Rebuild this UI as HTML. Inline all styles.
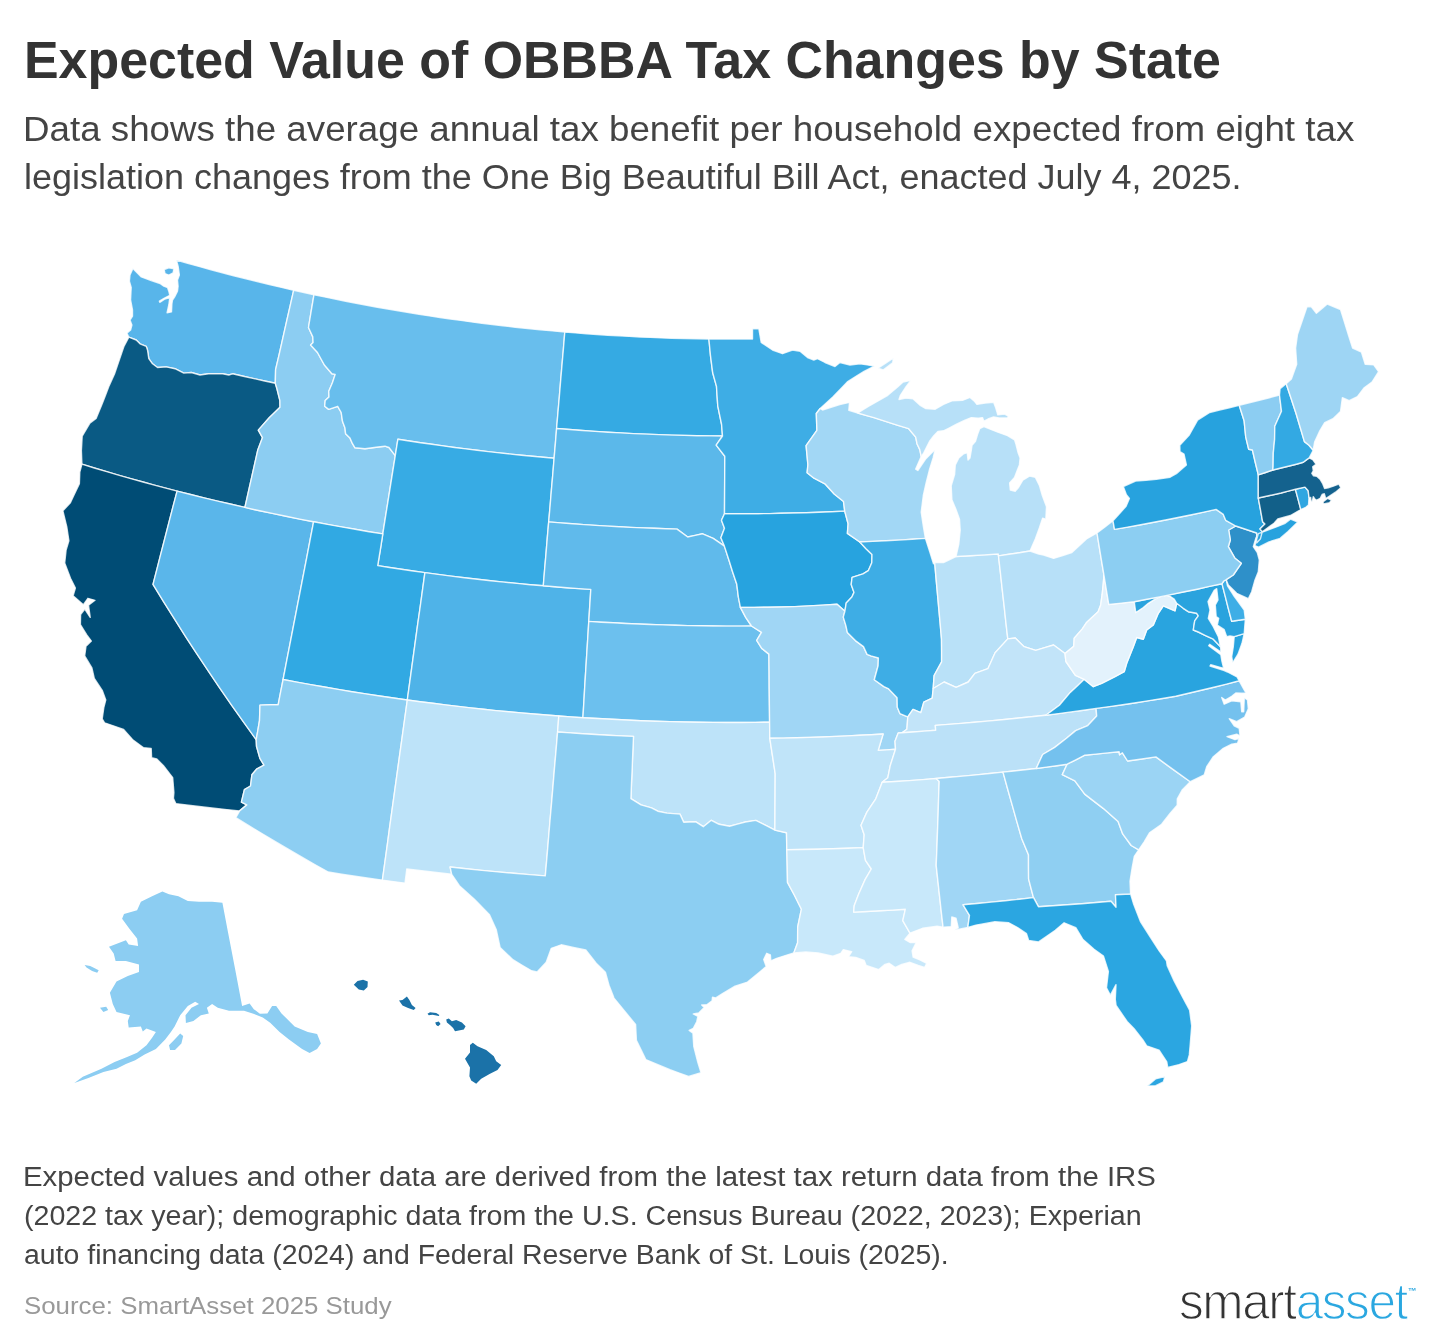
<!DOCTYPE html>
<html lang="en"><head><meta charset="utf-8"><title>Expected Value of OBBBA Tax Changes by State</title>
<style>
html,body{margin:0;padding:0;background:#fff;}
body{width:1440px;height:1344px;position:relative;overflow:hidden;font-family:"Liberation Sans","DejaVu Sans",sans-serif;color:#333;}
.t{position:absolute;margin:0;white-space:nowrap;transform-origin:0 0;line-height:1;font-weight:400;}
h1.t{font-size:51px;font-weight:700;color:#333;}
.sub{font-size:35.5px;color:#444;}
.nt{font-size:27px;color:#444;}
.src{font-size:24px;color:#999;}
.logo{font-size:51.5px;color:#333;letter-spacing:-1.5px;-webkit-text-stroke:1.35px #fff;}
.logo b{font-weight:400;color:#2aa7e0;}
.logo i{font-style:normal;font-size:9px;font-weight:700;color:#2aa7e0;letter-spacing:0;position:relative;top:-25px;left:1px;-webkit-text-stroke:0;}
svg{position:absolute;left:0;top:0;}
svg path{stroke:#fff;stroke-width:1.4;stroke-opacity:.8;stroke-linejoin:round;}
svg path.ns{stroke:none;}
</style></head><body>
<h1 class="t" id="l1" style="left:23.95px;top:35.30px;transform:scaleX(1.0177)">Expected Value of OBBBA Tax Changes by State</h1>
<p class="t sub" id="l2" style="left:23.40px;top:112.25px;transform:scaleX(1.0346)">Data shows the average annual tax benefit per household expected from eight tax</p>
<p class="t sub" id="l3" style="left:23.97px;top:160.40px;transform:scaleX(1.0130)">legislation changes from the One Big Beautiful Bill Act, enacted July 4, 2025.</p>
<svg width="1440" height="1344" viewBox="0 0 1440 1344">
<path id="st-WA" d="M176.4,260.1L187.6,263.3L198.9,266.4L210.1,269.5L221.4,272.5L232.7,275.5L244.9,278.6L257.1,281.6L269.3,284.5L281.5,287.4L293.7,290.2L290.1,306.1L286.5,321.9L282.9,337.8L279.3,353.8L275.6,369.7L275.3,383.3L264.6,381.0L253.9,378.6L243.2,376.2L232.5,373.8L228.8,375.0L222.5,373.8L215.6,373.8L208.7,373.8L200.0,375.0L191.3,372.5L183.8,373.1L175.0,368.7L166.2,366.9L157.5,367.5L152.5,363.8L148.8,358.7L147.5,350.0L146.2,346.3L140.0,343.8L136.2,340.0L128.8,337.2L126.9,333.1L130.6,330.0L131.9,325.0L130.0,320.0L132.5,316.2L132.5,310.0L130.6,300.0L131.2,287.5L129.4,281.2L130.0,275.0L132.9,268.5L141.3,276.9L151.2,280.6L160.0,283.5L163.8,286.2L167.5,287.5L168.8,291.2L169.8,295.3L164.5,298.0L159.4,301.2L159.8,302.3L165.0,299.0L169.8,297.5L168.8,305.0L167.1,312.7L171.5,311.9L171.9,303.8L172.5,300.0L175.0,296.3L177.5,291.2L178.1,286.2L177.5,280.0L179.4,275.0L178.1,266.2ZM164.2,269.6L165.0,273.6L168.8,275.1L173.1,273.0L173.9,268.8L168.7,267.8Z" fill="#58b5ea"/>
<path id="st-OR" d="M128.8,337.2L123.8,346.8L119.7,358.8L114.5,373.9L109.2,385.6L105.8,394.6L102.3,403.6L96.1,418.4L89.9,423.1L82.2,436.2L81.4,450.7L81.9,464.2L94.3,468.0L106.7,471.7L119.2,475.3L131.7,478.9L143.0,482.0L154.3,485.1L165.7,488.1L177.1,491.1L190.6,494.5L204.1,497.9L217.7,501.1L231.3,504.3L244.9,507.4L248.1,493.1L251.3,478.8L254.5,464.6L257.7,450.3L262.5,437.6L258.3,430.1L269.2,417.8L280.0,407.2L279.9,400.6L276.9,388.5L275.3,383.3L264.6,381.0L253.9,378.6L243.2,376.2L232.5,373.8L228.8,375.0L222.5,373.8L215.6,373.8L208.7,373.8L200.0,375.0L191.3,372.5L183.8,373.1L175.0,368.7L166.2,366.9L157.5,367.5L152.5,363.8L148.8,358.7L147.5,350.0L146.2,346.3L140.0,343.8L136.2,340.0Z" fill="#0a5a84"/>
<path id="st-CA" d="M81.9,464.2L79.8,472.0L79.4,483.6L73.9,495.3L70.4,502.7L62.9,510.8L66.8,526.8L68.9,540.8L66.1,550.1L64.7,563.1L70.5,578.2L75.4,588.0L73.1,595.7L83.4,604.7L87.9,598.3L95.0,600.3L88.5,605.2L90.2,617.4L84.8,609.1L80.6,614.6L80.4,624.6L86.6,634.7L91.4,641.1L86.0,646.2L84.7,655.9L91.9,667.9L94.3,678.5L102.4,690.7L105.8,699.9L103.8,707.7L102.2,718.9L104.6,722.8L114.1,726.1L123.6,729.4L133.1,740.1L143.3,747.6L151.2,748.5L151.6,757.8L156.8,759.0L163.3,765.5L172.7,777.6L173.9,792.6L173.4,798.4L175.8,803.6L188.6,805.2L201.3,806.7L214.1,808.2L226.9,809.6L239.6,810.9L246.8,804.9L241.4,802.1L244.4,789.7L250.5,786.0L251.9,774.8L256.5,769.2L264.0,765.1L259.9,758.4L256.5,746.3L256.2,739.7L244.0,722.7L231.9,705.6L220.0,688.4L208.4,671.2L196.9,653.9L185.6,636.6L174.6,619.2L163.7,601.8L153.0,584.3L157.0,568.8L161.0,553.2L165.0,537.7L169.0,522.1L173.0,506.6L177.1,491.1L165.7,488.1L154.3,485.1L143.0,482.0L131.7,478.9L119.2,475.3L106.7,471.7L94.3,468.0Z" fill="#004c75"/>
<path id="st-NV" d="M177.1,491.1L190.6,494.5L204.1,497.9L217.7,501.1L231.3,504.3L244.9,507.4L258.6,510.5L272.3,513.4L286.1,516.3L299.8,519.1L313.6,521.8L310.2,539.3L306.9,556.8L303.5,574.3L300.1,591.8L296.7,609.3L293.3,626.9L289.9,644.4L286.5,661.9L283.1,679.5L280.6,692.1L278.2,704.7L270.4,704.8L260.0,705.1L259.5,720.7L257.9,730.2L256.2,739.7L244.0,722.7L231.9,705.6L220.0,688.4L208.4,671.2L196.9,653.9L185.6,636.6L174.6,619.2L163.7,601.8L153.0,584.3L157.0,568.8L161.0,553.2L165.0,537.7L169.0,522.1L173.0,506.6Z" fill="#5ab6ea"/>
<path id="st-ID" d="M293.7,290.2L303.9,292.5L314.0,294.7L311.2,311.1L308.5,327.5L312.8,336.9L313.1,342.5L310.6,345.0L317.5,352.5L324.4,365.0L331.9,373.8L335.2,374.4L332.5,382.5L328.8,391.2L329.0,396.9L325.2,400.6L324.7,406.2L328.7,409.4L337.7,406.3L341.2,412.5L342.5,421.3L345.0,428.1L345.6,433.7L350.0,438.1L352.5,443.7L355.0,447.8L365.0,448.8L378.0,447.0L385.0,446.2L389.0,447.5L395.3,455.6L392.8,471.2L390.3,486.9L387.8,502.6L385.3,518.2L382.8,533.9L368.9,531.7L355.1,529.3L341.3,526.9L327.4,524.4L313.6,521.8L299.8,519.1L286.1,516.3L272.3,513.4L258.6,510.5L244.9,507.4L248.1,493.1L251.3,478.8L254.5,464.6L257.7,450.3L262.5,437.6L258.3,430.1L269.2,417.8L280.0,407.2L279.9,400.6L276.9,388.5L275.3,383.3L275.6,369.7L279.3,353.8L282.9,337.8L286.5,321.9L290.1,306.1Z" fill="#8ccdf2"/>
<path id="st-MT" d="M314.0,294.7L324.5,296.9L335.0,299.0L345.6,301.2L356.1,303.2L366.7,305.2L377.3,307.2L387.7,309.0L398.1,310.8L408.5,312.5L419.0,314.2L429.4,315.9L439.9,317.5L450.3,319.0L460.8,320.4L471.3,321.9L481.8,323.2L492.3,324.5L502.8,325.8L515.2,327.2L527.6,328.5L540.0,329.7L552.4,330.9L564.8,332.0L563.5,348.0L562.1,364.0L560.7,380.1L559.4,396.2L558.0,412.3L556.6,428.5L555.4,443.4L554.1,458.3L543.2,457.3L532.3,456.3L521.4,455.2L510.5,454.1L499.3,452.9L488.1,451.6L477.0,450.3L465.8,448.9L454.5,447.5L443.1,445.9L431.8,444.3L420.5,442.7L409.2,441.0L397.9,439.2L395.3,455.6L389.0,447.5L385.0,446.2L378.0,447.0L365.0,448.8L355.0,447.8L352.5,443.7L350.0,438.1L345.6,433.7L345.0,428.1L342.5,421.3L341.2,412.5L337.7,406.3L328.7,409.4L324.7,406.2L325.2,400.6L329.0,396.9L328.8,391.2L332.5,382.5L335.2,374.4L331.9,373.8L324.4,365.0L317.5,352.5L310.6,345.0L313.1,342.5L312.8,336.9L308.5,327.5L311.2,311.1Z" fill="#68beed"/>
<path id="st-WY" d="M397.9,439.2L409.2,441.0L420.5,442.7L431.8,444.3L443.1,445.9L454.5,447.5L465.8,448.9L477.0,450.3L488.1,451.6L499.3,452.9L510.5,454.1L521.4,455.2L532.3,456.3L543.2,457.3L554.1,458.3L552.8,474.2L551.4,490.1L550.1,506.0L548.7,521.9L547.3,537.9L546.0,553.9L544.6,569.8L543.3,585.8L530.1,584.7L516.9,583.4L503.7,582.1L490.6,580.7L477.4,579.3L464.3,577.7L451.1,576.1L438.0,574.4L424.9,572.6L413.1,571.0L401.3,569.3L389.5,567.5L377.7,565.6L380.3,549.8L382.8,533.9L385.3,518.2L387.8,502.6L390.3,486.9L392.8,471.2L395.3,455.6Z" fill="#37abe4"/>
<path id="st-UT" d="M313.6,521.8L327.4,524.4L341.3,526.9L355.1,529.3L368.9,531.7L382.8,533.9L380.3,549.8L377.7,565.6L389.5,567.5L401.3,569.3L413.1,571.0L424.9,572.6L422.4,590.8L419.9,609.0L417.3,627.2L414.8,645.4L412.3,663.6L409.8,681.8L407.3,700.0L393.4,698.0L379.6,696.0L365.8,693.9L351.9,691.7L338.1,689.4L324.4,687.0L310.6,684.6L296.8,682.1L283.1,679.5L286.5,661.9L289.9,644.4L293.3,626.9L296.7,609.3L300.1,591.8L303.5,574.3L306.9,556.8L310.2,539.3Z" fill="#31a9e3"/>
<path id="st-AZ" d="M283.1,679.5L296.8,682.1L310.6,684.6L324.4,687.0L338.1,689.4L351.9,691.7L365.8,693.9L379.6,696.0L393.4,698.0L407.3,700.0L404.8,718.0L402.3,736.1L399.8,754.1L397.3,772.1L394.8,790.2L392.3,808.2L389.8,826.2L387.4,844.2L384.9,862.1L382.4,880.1L368.8,878.2L355.3,876.2L341.8,874.2L328.3,872.0L314.8,864.5L301.5,856.9L288.2,849.2L275.0,841.4L261.9,833.6L248.8,825.7L235.8,817.7L239.6,810.9L246.8,804.9L241.4,802.1L244.4,789.7L250.5,786.0L251.9,774.8L256.5,769.2L264.0,765.1L259.9,758.4L256.5,746.3L256.2,739.7L257.9,730.2L259.5,720.7L260.0,705.1L270.4,704.8L278.2,704.7L280.6,692.1Z" fill="#8dcef2"/>
<path id="st-CO" d="M424.9,572.6L438.0,574.4L451.1,576.1L464.3,577.7L477.4,579.3L490.6,580.7L503.7,582.1L516.9,583.4L530.1,584.7L543.3,585.8L555.1,586.8L567.0,587.7L578.9,588.6L590.8,589.4L589.8,605.4L588.8,621.4L587.8,637.5L586.8,653.5L585.8,669.5L584.8,685.6L583.9,701.6L582.9,717.7L570.8,716.9L558.8,716.0L546.2,715.0L533.7,714.0L521.1,712.9L508.6,711.8L496.0,710.6L483.5,709.3L470.8,707.9L458.1,706.4L445.4,704.9L432.7,703.3L420.0,701.7L407.3,700.0L409.8,681.8L412.3,663.6L414.8,645.4L417.3,627.2L419.9,609.0L422.4,590.8Z" fill="#4fb3e8"/>
<path id="st-NM" d="M407.3,700.0L420.0,701.7L432.7,703.3L445.4,704.9L458.1,706.4L470.8,707.9L483.5,709.3L496.0,710.6L508.6,711.8L521.1,712.9L533.7,714.0L546.2,715.0L558.8,716.0L557.6,732.0L556.1,750.0L554.5,768.1L553.0,786.1L551.5,804.0L549.9,822.0L548.4,840.0L546.9,857.9L545.3,875.9L529.5,874.6L513.6,873.3L497.7,871.9L481.8,870.4L466.0,868.7L450.1,867.0L451.7,874.3L436.7,872.5L421.8,870.7L406.8,868.9L405.0,883.1L393.7,881.6L382.4,880.1L384.9,862.1L387.4,844.2L389.8,826.2L392.3,808.2L394.8,790.2L397.3,772.1L399.8,754.1L402.3,736.1L404.8,718.0Z" fill="#bde3f9"/>
<path id="st-ND" d="M564.8,332.0L575.5,332.9L586.3,333.7L597.0,334.5L607.7,335.2L618.4,335.8L629.2,336.4L639.7,337.0L650.3,337.4L660.9,337.9L671.4,338.2L683.9,338.6L696.4,338.8L708.9,339.0L710.4,354.8L712.7,372.8L716.5,386.4L717.1,396.3L717.8,406.1L721.6,424.5L722.5,436.0L709.7,435.9L697.0,435.7L684.3,435.4L671.6,435.1L658.9,434.6L646.2,434.1L633.4,433.6L620.6,432.9L607.8,432.2L595.0,431.4L582.2,430.5L569.4,429.5L556.6,428.5L558.0,412.3L559.4,396.2L560.7,380.1L562.1,364.0L563.5,348.0Z" fill="#35aae3"/>
<path id="st-SD" d="M556.6,428.5L569.4,429.5L582.2,430.5L595.0,431.4L607.8,432.2L620.6,432.9L633.4,433.6L646.2,434.1L658.9,434.6L671.6,435.1L684.3,435.4L697.0,435.7L709.7,435.9L722.5,436.0L716.2,445.1L724.8,456.3L724.7,475.5L724.6,494.6L724.5,513.8L721.5,520.2L724.5,528.2L720.9,537.8L724.4,546.1L713.2,538.4L702.6,533.8L695.2,535.4L687.7,537.0L677.0,529.1L665.4,528.7L653.8,528.3L642.3,527.9L630.7,527.4L619.1,526.8L607.4,526.1L595.6,525.4L583.9,524.6L572.2,523.8L560.4,522.9L548.7,521.9L550.1,506.0L551.4,490.1L552.8,474.2L554.1,458.3L555.4,443.4Z" fill="#5bb8ea"/>
<path id="st-NE" d="M548.7,521.9L560.4,522.9L572.2,523.8L583.9,524.6L595.6,525.4L607.4,526.1L619.1,526.8L630.7,527.4L642.3,527.9L653.8,528.3L665.4,528.7L677.0,529.1L687.7,537.0L695.2,535.4L702.6,533.8L713.2,538.4L724.4,546.1L729.0,560.3L732.5,571.5L736.8,584.3L738.4,597.2L740.4,607.4L745.7,617.4L751.5,626.0L738.8,626.1L726.1,626.1L713.3,626.0L700.6,625.8L687.8,625.6L675.1,625.3L662.4,624.9L650.1,624.5L637.8,624.0L625.6,623.5L613.3,622.8L601.0,622.2L588.8,621.4L589.8,605.4L590.8,589.4L578.9,588.6L567.0,587.7L555.1,586.8L543.3,585.8L544.6,569.8L546.0,553.9L547.3,537.9Z" fill="#60baeb"/>
<path id="st-KS" d="M588.8,621.4L601.0,622.2L613.3,622.8L625.6,623.5L637.8,624.0L650.1,624.5L662.4,624.9L675.1,625.3L687.8,625.6L700.6,625.8L713.3,626.0L726.1,626.1L738.8,626.1L751.5,626.0L761.5,632.3L756.7,640.4L761.7,648.4L768.9,654.1L769.1,671.1L769.2,688.2L769.4,705.2L769.6,722.2L755.4,722.4L741.2,722.5L727.1,722.5L712.9,722.4L698.7,722.2L684.5,722.0L670.0,721.6L655.5,721.2L640.9,720.7L626.4,720.0L611.9,719.3L597.4,718.5L582.9,717.7L583.9,701.6L584.8,685.6L585.8,669.5L586.8,653.5L587.8,637.5Z" fill="#6cc0ee"/>
<path id="st-OK" d="M558.8,716.0L570.8,716.9L582.9,717.7L597.4,718.5L611.9,719.3L626.4,720.0L640.9,720.7L655.5,721.2L670.0,721.6L684.5,722.0L698.7,722.2L712.9,722.4L727.1,722.5L741.2,722.5L755.4,722.4L769.6,722.2L769.8,738.3L772.5,755.9L775.2,773.6L775.1,792.4L775.0,811.3L774.9,830.1L765.3,825.2L755.8,820.4L745.4,822.0L737.5,824.1L729.6,826.2L719.1,824.3L711.3,820.3L703.3,826.7L695.5,821.7L683.7,822.2L680.0,814.1L666.9,813.1L657.8,811.2L651.4,807.8L641.0,804.9L630.9,798.7L631.5,783.1L632.2,767.6L632.8,752.0L633.5,736.4L620.8,735.9L608.2,735.2L595.5,734.5L582.9,733.8L570.2,732.9L557.6,732.0Z" fill="#bde3f9"/>
<path id="st-TX" d="M451.7,874.3L450.1,867.0L466.0,868.7L481.8,870.4L497.7,871.9L513.6,873.3L529.5,874.6L545.3,875.9L546.9,857.9L548.4,840.0L549.9,822.0L551.5,804.0L553.0,786.1L554.5,768.1L556.1,750.0L557.6,732.0L570.2,732.9L582.9,733.8L595.5,734.5L608.2,735.2L620.8,735.9L633.5,736.4L632.8,752.0L632.2,767.6L631.5,783.1L630.9,798.7L641.0,804.9L651.4,807.8L657.8,811.2L666.9,813.1L680.0,814.1L683.7,822.2L695.5,821.7L703.3,826.7L711.3,820.3L719.1,824.3L729.6,826.2L737.5,824.1L745.4,822.0L755.8,820.4L765.3,825.2L774.9,830.1L786.5,832.7L786.8,849.7L787.2,866.1L787.5,882.4L794.3,895.0L801.4,909.2L797.7,926.9L797.6,942.8L793.8,952.9L785.2,955.6L776.7,958.3L770.8,960.8L770.4,955.0L766.7,953.3L763.7,959.6L766.2,966.5L760.0,971.7L747.5,982.1L735.0,986.2L722.5,993.5L715.8,997.9L712.5,997.1L712.1,1000.8L707.1,1004.6L701.7,1005.0L704.2,1007.5L698.7,1012.9L693.3,1014.0L697.9,1016.5L696.7,1021.7L693.3,1028.3L689.2,1030.4L692.9,1033.1L693.8,1046.7L697.5,1061.2L701.0,1072.7L688.6,1076.4L679.3,1073.1L670.0,1069.7L657.9,1064.7L645.8,1059.6L641.1,1049.9L636.4,1040.3L635.6,1024.4L624.7,1011.3L614.0,998.1L609.0,985.2L605.4,972.3L596.2,963.2L585.8,949.9L573.5,947.4L561.2,944.8L551.3,948.3L546.2,962.3L537.1,971.9L531.6,970.8L522.2,965.3L512.9,959.7L500.1,947.4L496.2,929.5L489.3,914.4L474.4,899.2L466.9,892.4L459.4,885.7Z" fill="#8ccef2"/>
<path id="st-MN" d="M708.9,339.0L719.8,339.1L730.7,339.1L741.6,339.1L752.5,339.0L752.5,328.8L758.8,328.7L761.2,342.5L772.5,350.0L782.5,353.7L792.5,350.0L800.0,351.2L807.5,357.5L813.8,360.0L817.5,358.7L825.0,362.5L835.0,366.5L840.0,362.5L850.0,365.0L860.0,363.8L867.2,364.9L874.4,366.0L864.0,371.4L855.6,376.6L847.3,381.9L840.1,389.4L832.8,396.9L820.2,408.5L816.3,413.5L816.9,430.3L806.1,445.6L807.0,455.1L807.9,464.7L807.1,472.7L814.0,478.2L824.9,483.8L834.2,494.0L843.5,501.5L844.7,511.1L831.9,511.7L819.2,512.2L806.4,512.7L793.6,513.0L780.8,513.3L769.6,513.6L758.3,513.7L747.0,513.8L735.8,513.8L724.5,513.8L724.6,494.6L724.7,475.5L724.8,456.3L716.2,445.1L722.5,436.0L721.6,424.5L717.8,406.1L717.1,396.3L716.5,386.4L712.7,372.8L710.4,354.8Z" fill="#3eade5"/>
<path id="st-IA" d="M724.5,513.8L735.8,513.8L747.0,513.8L758.3,513.7L769.6,513.6L780.8,513.3L793.6,513.0L806.4,512.7L819.2,512.2L831.9,511.7L844.7,511.1L848.1,523.7L847.4,533.4L859.8,542.0L865.8,548.4L872.0,554.4L871.8,562.8L868.3,570.7L863.0,573.9L852.1,577.4L851.2,584.5L854.0,592.4L851.9,597.0L846.2,603.1L844.9,611.2L837.1,604.2L823.0,605.1L808.9,605.9L794.8,606.6L781.2,607.0L767.6,607.2L754.0,607.4L740.4,607.4L738.4,597.2L736.8,584.3L732.5,571.5L729.0,560.3L724.4,546.1L720.9,537.8L724.5,528.2L721.5,520.2Z" fill="#27a3df"/>
<path id="st-MO" d="M740.4,607.4L754.0,607.4L767.6,607.2L781.2,607.0L794.8,606.6L808.9,605.9L823.0,605.1L837.1,604.2L844.9,611.2L843.3,617.1L845.9,625.6L847.4,632.6L855.4,640.6L863.5,646.6L867.1,654.4L870.9,655.8L878.4,658.0L878.1,665.7L874.3,679.8L883.9,686.6L888.2,688.6L897.1,697.7L897.3,707.3L899.9,713.6L907.8,716.9L906.9,729.2L902.0,732.8L898.2,733.0L895.0,741.3L895.5,749.3L886.9,749.9L878.2,750.4L883.1,734.0L871.4,734.7L859.7,735.3L847.9,735.9L836.2,736.4L823.0,737.0L809.7,737.4L796.4,737.8L783.1,738.1L769.8,738.3L769.6,722.2L769.4,705.2L769.2,688.2L769.1,671.1L768.9,654.1L761.7,648.4L756.7,640.4L761.5,632.3L751.5,626.0L745.7,617.4Z" fill="#a0d6f5"/>
<path id="st-AR" d="M769.8,738.3L783.1,738.1L796.4,737.8L809.7,737.4L823.0,737.0L836.2,736.4L847.9,735.9L859.7,735.3L871.4,734.7L883.1,734.0L878.2,750.4L886.9,749.9L895.5,749.3L890.2,765.8L887.8,777.8L882.2,782.3L875.8,798.8L866.9,812.1L861.0,825.3L864.2,834.8L863.2,847.6L848.0,848.2L832.7,848.8L817.4,849.2L802.1,849.5L786.8,849.7L786.5,832.7L774.9,830.1L775.0,811.3L775.1,792.4L775.2,773.6L772.5,755.9Z" fill="#c0e4f9"/>
<path id="st-LA" d="M786.8,849.7L802.1,849.5L817.4,849.2L832.7,848.8L848.0,848.2L863.2,847.6L865.5,860.3L871.3,869.0L865.1,879.6L858.6,894.3L854.2,905.7L853.7,912.1L866.6,911.5L879.5,910.8L892.4,910.1L905.3,909.3L902.8,920.6L910.0,933.1L904.8,939.4L910.0,942.5L916.2,942.5L912.1,950.8L913.1,957.1L920.4,960.2L926.7,963.3L924.6,967.5L918.3,965.4L910.0,962.3L901.7,964.4L895.4,967.5L889.2,963.3L885.0,964.4L878.8,969.6L866.2,965.4L864.2,960.4L855.8,957.5L848.5,956.7L851.7,951.7L843.3,949.6L840.8,953.3L832.9,956.2L818.3,952.9L805.8,951.9L793.8,952.9L797.6,942.8L797.7,926.9L801.4,909.2L794.3,895.0L787.5,882.4L787.2,866.1Z" fill="#c8e8fa"/>
<path id="st-WI" d="M820.2,408.5L822.5,410.0L831.1,407.3L839.8,404.5L849.5,402.4L848.8,410.3L857.8,413.0L865.8,415.3L873.9,417.6L885.5,421.4L897.1,425.1L908.7,428.7L915.7,437.1L917.1,444.0L919.8,449.6L921.2,456.5L915.7,469.1L917.8,470.5L925.4,459.3L933.8,450.7L934.9,450.3L933.1,457.9L929.6,469.1L926.1,483.0L923.3,495.5L921.2,512.2L923.3,526.1L925.4,538.4L912.3,539.3L899.2,540.1L886.0,540.8L872.9,541.4L859.8,542.0L847.4,533.4L848.1,523.7L844.7,511.1L843.5,501.5L834.2,494.0L824.9,483.8L814.0,478.2L807.1,472.7L807.9,464.7L807.0,455.1L806.1,445.6L816.9,430.3L816.3,413.5Z" fill="#a2d7f5"/>
<path id="st-IL" d="M859.8,542.0L872.9,541.4L886.0,540.8L899.2,540.1L912.3,539.3L925.4,538.4L929.6,551.2L933.5,563.7L934.7,562.6L936.0,577.9L937.4,593.3L938.8,608.6L940.2,624.0L941.5,639.3L941.6,650.6L941.6,661.9L934.1,675.5L933.2,688.5L932.2,698.2L923.8,702.1L920.8,712.7L913.0,709.4L907.8,716.9L899.9,713.6L897.3,707.3L897.1,697.7L888.2,688.6L883.9,686.6L874.3,679.8L878.1,665.7L878.4,658.0L870.9,655.8L867.1,654.4L863.5,646.6L855.4,640.6L847.4,632.6L845.9,625.6L843.3,617.1L844.9,611.2L846.2,603.1L851.9,597.0L854.0,592.4L851.2,584.5L852.1,577.4L863.0,573.9L868.3,570.7L871.8,562.8L872.0,554.4L865.8,548.4Z" fill="#3eade5"/>
<path id="st-IN" d="M934.7,562.6L943.5,562.6L956.0,556.5L970.1,555.8L984.2,554.9L998.3,554.0L998.5,555.9L1000.4,572.5L1002.2,589.1L1004.1,605.7L1005.9,622.3L1007.8,638.9L995.1,652.7L987.9,668.7L974.9,673.3L968.3,682.0L956.1,687.4L944.1,682.0L933.2,688.5L934.1,675.5L941.6,661.9L941.6,650.6L941.5,639.3L940.2,624.0L938.8,608.6L937.4,593.3L936.0,577.9Z" fill="#b9e1f8"/>
<path id="st-MI" d="M1030.0,551.0L1035.4,538.7L1039.5,527.5L1042.6,518.1L1045.8,519.2L1046.5,506.7L1042.3,495.5L1039.5,485.8L1035.4,477.4L1029.8,476.0L1022.8,480.2L1018.7,487.2L1015.2,491.3L1010.3,490.0L1009.6,483.0L1014.5,477.4L1016.6,471.9L1019.4,464.9L1020.1,457.9L1018.0,452.4L1015.9,444.0L1014.5,439.8L1007.5,435.7L997.8,432.2L990.8,429.4L983.9,426.6L979.7,428.7L977.6,434.3L975.5,441.2L972.0,445.4L971.3,450.3L970.0,457.9L968.0,460.0L967.2,452.7L963.7,453.8L958.8,457.9L955.3,464.9L954.6,474.6L951.2,485.8L951.9,499.7L956.0,509.4L959.5,519.2L960.2,530.3L958.8,544.2L956.0,556.5L970.1,555.8L984.2,554.9L998.3,554.0L998.5,555.9L1009.0,554.3L1019.5,552.7ZM857.8,413.0L868.4,406.4L878.1,400.9L887.8,395.3L897.6,387.0L903.1,382.1L910.8,380.4L905.9,387.0L900.4,395.3L899.0,399.5L905.9,398.1L912.9,398.8L919.8,405.1L925.4,408.5L935.2,409.2L943.5,404.4L951.9,400.9L963.0,400.2L970.0,397.4L974.1,400.9L976.9,404.4L985.3,403.0L993.6,402.3L995.7,407.8L997.8,414.8L1004.7,414.1L1008.4,416.2L1007.5,417.9L999.2,417.9L993.6,417.0L988.0,419.0L983.9,421.2L982.5,417.6L978.3,418.3L971.3,417.6L964.4,420.4L956.0,424.5L949.1,428.0L943.5,430.8L937.9,431.5L933.8,435.7L929.6,441.2L926.8,446.8L923.3,453.8L921.2,456.5L919.8,449.6L917.1,444.0L915.7,437.1L908.7,428.7L897.1,425.1L885.5,421.4L873.9,417.6L865.8,415.3ZM877.9,368.2L883.1,370.0L892.6,362.9L893.5,358.0L885.7,363.1Z" fill="#b7e0f8"/>
<path id="st-OH" d="M1097.0,533.0L1086.5,538.9L1079.2,545.7L1071.9,552.5L1062.8,555.5L1053.6,558.4L1043.6,555.0L1038.7,554.0L1030.0,551.0L1019.5,552.7L1009.0,554.3L998.5,555.9L1000.4,572.5L1002.2,589.1L1004.1,605.7L1005.9,622.3L1007.8,638.9L1015.3,638.0L1024.1,646.7L1035.7,650.4L1044.7,647.7L1053.6,645.0L1065.0,653.5L1073.7,646.4L1074.2,638.2L1082.3,628.9L1086.3,622.8L1098.1,611.8L1100.7,604.9L1102.2,594.2L1103.3,583.3L1104.0,575.4L1101.6,561.2L1099.3,547.1Z" fill="#b7e0f8"/>
<path id="st-KY" d="M933.2,688.5L944.1,682.0L956.1,687.4L968.3,682.0L974.9,673.3L987.9,668.7L995.1,652.7L1007.8,638.9L1015.3,638.0L1024.1,646.7L1035.7,650.4L1044.7,647.7L1053.6,645.0L1065.0,653.5L1065.9,661.5L1075.4,675.4L1084.3,679.3L1077.3,685.9L1070.3,692.4L1059.4,705.3L1045.9,715.2L1031.3,716.8L1016.7,718.3L1002.1,719.7L987.5,721.1L974.4,722.3L961.4,723.4L948.3,724.4L935.3,725.4L935.7,730.2L924.5,731.1L913.2,732.0L902.0,732.8L906.9,729.2L907.8,716.9L913.0,709.4L920.8,712.7L923.8,702.1L932.2,698.2Z" fill="#c2e4f9"/>
<path id="st-TN" d="M902.0,732.8L913.2,732.0L924.5,731.1L935.7,730.2L935.3,725.4L948.3,724.4L961.4,723.4L974.4,722.3L987.5,721.1L1002.1,719.7L1016.7,718.3L1031.3,716.8L1045.9,715.2L1058.4,713.6L1071.0,711.9L1083.5,710.2L1096.1,708.4L1096.7,716.1L1087.8,725.6L1075.7,730.6L1066.5,738.3L1054.7,747.4L1042.7,754.5L1036.2,768.5L1025.1,769.8L1014.0,771.0L1003.0,772.1L989.7,773.5L976.3,774.9L963.0,776.1L949.7,777.3L936.3,778.5L922.8,779.6L909.3,780.6L895.7,781.5L882.2,782.3L887.8,777.8L890.2,765.8L895.5,749.3L895.0,741.3L898.2,733.0Z" fill="#bbe1f8"/>
<path id="st-MS" d="M882.2,782.3L895.7,781.5L909.3,780.6L922.8,779.6L936.3,778.5L939.2,781.5L938.6,798.3L938.1,815.0L937.5,831.8L936.9,848.6L936.2,865.3L937.9,880.8L939.6,896.3L941.3,911.8L943.1,927.3L937.1,926.2L922.5,928.3L910.0,933.1L902.8,920.6L905.3,909.3L892.4,910.1L879.5,910.8L866.6,911.5L853.7,912.1L854.2,905.7L858.6,894.3L865.1,879.6L871.3,869.0L865.5,860.3L863.2,847.6L864.2,834.8L861.0,825.3L866.9,812.1L875.8,798.8Z" fill="#c8e8fa"/>
<path id="st-AL" d="M936.3,778.5L949.7,777.3L963.0,776.1L976.3,774.9L989.7,773.5L1003.0,772.1L1007.6,788.8L1012.3,805.4L1017.0,822.1L1021.8,838.7L1028.5,854.7L1028.5,866.8L1028.6,878.9L1031.0,888.2L1033.5,897.6L1019.4,899.2L1005.3,900.7L991.3,902.1L977.2,903.5L963.1,904.8L969.5,915.4L967.8,927.4L954.3,930.2L958.2,927.6L956.0,918.2L951.8,917.0L951.3,926.6L943.1,927.3L941.3,911.8L939.6,896.3L937.9,880.8L936.2,865.3L936.9,848.6L937.5,831.8L938.1,815.0L938.6,798.3L939.2,781.5Z" fill="#a0d6f5"/>
<path id="st-GA" d="M1003.0,772.1L1014.0,771.0L1025.1,769.8L1036.2,768.5L1046.5,767.1L1056.8,765.7L1067.1,764.2L1062.3,774.6L1074.9,780.9L1084.7,794.1L1094.1,801.4L1103.5,808.6L1118.1,821.6L1122.7,833.9L1131.2,845.5L1138.7,849.8L1134.3,856.3L1132.1,868.0L1130.0,881.3L1130.6,894.1L1115.5,894.8L1116.0,907.3L1111.0,901.3L1096.4,902.5L1081.9,903.7L1067.4,904.7L1052.9,905.7L1038.4,906.7L1033.5,897.6L1031.0,888.2L1028.6,878.9L1028.5,866.8L1028.5,854.7L1021.8,838.7L1017.0,822.1L1012.3,805.4L1007.6,788.8Z" fill="#8fcff2"/>
<path id="st-FL" d="M967.8,927.4L969.5,915.4L963.1,904.8L977.2,903.5L991.3,902.1L1005.3,900.7L1019.4,899.2L1033.5,897.6L1038.4,906.7L1052.9,905.7L1067.4,904.7L1081.9,903.7L1096.4,902.5L1111.0,901.3L1116.0,907.3L1115.5,894.8L1130.6,894.1L1133.4,903.4L1140.4,921.6L1149.8,936.3L1159.2,950.9L1166.5,960.9L1167.2,965.6L1174.0,980.6L1182.5,996.9L1189.6,1010.1L1191.7,1025.8L1190.3,1043.6L1189.3,1054.9L1187.4,1061.6L1179.0,1064.6L1167.7,1067.4L1166.8,1061.8L1159.1,1050.2L1146.7,1045.8L1142.9,1040.0L1133.9,1028.5L1127.1,1021.5L1116.1,1005.5L1115.3,999.3L1116.0,984.7L1110.4,995.2L1106.5,987.7L1108.4,971.4L1103.5,956.1L1094.1,949.3L1083.0,939.6L1075.8,927.7L1064.1,922.8L1055.3,930.3L1047.0,936.1L1038.6,941.9L1028.7,940.5L1026.5,933.7L1017.6,927.6L1008.8,922.8L994.9,921.7L985.4,923.4L975.9,925.1ZM1147.1,1086.1L1155.7,1085.7L1163.4,1081.9L1164.9,1076.5L1155.8,1078.8Z" fill="#2ba6e1"/>
<path id="st-SC" d="M1067.1,764.2L1075.8,759.8L1084.4,755.3L1096.0,754.1L1107.5,752.9L1119.1,751.7L1119.6,754.8L1122.4,752.8L1127.6,761.0L1141.8,759.0L1155.9,756.9L1173.0,769.4L1190.3,781.7L1182.4,789.7L1177.3,798.8L1177.2,805.3L1170.4,813.0L1161.6,824.3L1149.5,832.8L1144.2,841.8L1138.7,849.8L1131.2,845.5L1122.7,833.9L1118.1,821.6L1103.5,808.6L1094.1,801.4L1084.7,794.1L1074.9,780.9L1062.3,774.6Z" fill="#9bd4f4"/>
<path id="st-NC" d="M1096.1,708.4L1109.4,706.6L1122.6,704.7L1135.9,702.7L1149.2,700.6L1162.4,698.5L1175.7,696.3L1188.4,693.3L1201.1,690.3L1213.8,687.2L1226.5,684.1L1239.2,680.8L1244.2,690.0L1246.0,693.0L1241.7,693.3L1235.8,693.0L1231.7,696.3L1225.3,700.0L1221.7,697.5L1224.2,704.2L1231.7,700.8L1240.8,701.7L1241.7,711.7L1243.7,711.7L1244.3,697.7L1247.5,700.0L1248.3,708.7L1244.7,717.0L1236.7,721.7L1229.2,718.7L1234.2,725.8L1239.2,728.3L1240.0,735.8L1236.7,734.2L1227.0,736.7L1235.0,739.7L1239.2,738.3L1237.5,743.3L1231.7,744.2L1223.3,748.3L1213.3,756.7L1206.7,766.7L1204.2,775.0L1190.3,781.7L1173.0,769.4L1155.9,756.9L1141.8,759.0L1127.6,761.0L1122.4,752.8L1119.6,754.8L1119.1,751.7L1107.5,752.9L1096.0,754.1L1084.4,755.3L1075.8,759.8L1067.1,764.2L1056.8,765.7L1046.5,767.1L1036.2,768.5L1042.7,754.5L1054.7,747.4L1066.5,738.3L1075.7,730.6L1087.8,725.6L1096.7,716.1Z" fill="#74c1ee"/>
<path id="st-VA" d="M1096.1,708.4L1109.4,706.6L1122.6,704.7L1135.9,702.7L1149.2,700.6L1162.4,698.5L1175.7,696.3L1188.4,693.3L1201.1,690.3L1213.8,687.2L1226.5,684.1L1239.2,680.8L1237.0,677.0L1227.5,672.0L1224.2,670.5L1210.0,666.0L1210.8,664.7L1223.7,668.3L1222.0,661.7L1220.8,654.7L1208.7,645.7L1209.7,644.3L1221.0,652.0L1220.5,646.7L1213.3,639.2L1205.0,635.3L1198.3,632.0L1193.3,630.0L1194.7,620.8L1198.3,615.8L1196.7,613.3L1188.3,611.7L1183.3,608.3L1176.7,603.3L1175.0,610.8L1163.3,605.8L1158.3,613.3L1153.3,625.0L1146.7,630.0L1143.3,639.2L1136.7,637.5L1133.3,646.7L1126.7,663.3L1124.2,671.7L1115.0,676.7L1101.7,683.3L1093.3,686.7L1085.0,680.0L1084.3,679.3L1077.3,685.9L1070.3,692.4L1059.4,705.3L1045.9,715.2L1058.4,713.6L1071.0,711.9L1083.5,710.2ZM1234.2,636.7L1233.3,646.7L1231.7,656.7L1232.7,662.8L1238.0,654.2L1242.0,643.3L1244.2,633.7Z" fill="#29a4df"/>
<path id="st-WV" d="M1065.0,653.5L1073.7,646.4L1074.2,638.2L1082.3,628.9L1086.3,622.8L1098.1,611.8L1100.7,604.9L1102.2,594.2L1103.3,583.3L1104.0,575.4L1106.4,590.0L1108.8,604.5L1121.5,603.1L1134.2,601.7L1135.8,612.5L1143.3,607.5L1148.3,603.3L1155.0,599.2L1160.0,596.7L1164.2,594.7L1170.0,596.3L1174.2,599.2L1176.7,603.3L1175.0,610.8L1163.3,605.8L1158.3,613.3L1153.3,625.0L1146.7,630.0L1143.3,639.2L1136.7,637.5L1133.3,646.7L1126.7,663.3L1124.2,671.7L1115.0,676.7L1101.7,683.3L1093.3,686.7L1085.0,680.0L1084.3,679.3L1075.4,675.4L1065.9,661.5Z" fill="#e3f2fc"/>
<path id="st-MD" d="M1134.2,601.7L1146.8,599.3L1159.3,596.9L1171.9,594.4L1184.4,591.8L1197.0,589.2L1209.5,586.4L1222.0,583.7L1225.2,596.2L1228.4,608.8L1231.7,621.3L1245.3,619.2L1244.2,633.7L1234.2,636.7L1230.0,636.0L1226.7,636.7L1224.2,629.7L1217.3,625.0L1218.7,618.3L1216.2,616.7L1215.3,605.0L1218.0,600.0L1216.7,588.7L1214.2,590.3L1208.0,601.7L1210.0,610.0L1208.3,618.3L1213.3,626.7L1218.3,636.7L1220.5,646.7L1213.3,639.2L1205.0,635.3L1198.3,632.0L1193.3,630.0L1194.7,620.8L1198.3,615.8L1196.7,613.3L1188.3,611.7L1183.3,608.3L1176.7,603.3L1174.2,599.2L1170.0,596.3L1164.2,594.7L1160.0,596.7L1155.0,599.2L1148.3,603.3L1143.3,607.5L1135.8,612.5Z" fill="#2aa3de"/>
<path id="st-DE" d="M1226.2,579.7L1223.8,581.0L1222.0,583.7L1225.2,596.2L1228.4,608.8L1231.7,621.3L1245.3,619.2L1244.2,610.0L1237.5,600.8L1233.3,595.0L1227.5,585.8Z" fill="#3eaee6"/>
<path id="st-NJ" d="M1235.8,526.0L1246.3,529.5L1256.7,533.0L1257.0,536.2L1256.0,537.8L1253.3,546.7L1257.3,552.5L1259.3,560.0L1258.3,571.7L1255.0,580.0L1251.7,591.7L1248.3,598.7L1236.7,593.3L1228.3,585.0L1226.2,579.7L1233.3,575.0L1241.3,563.3L1235.0,558.3L1228.3,546.7L1230.3,540.0L1228.7,530.0Z" fill="#2e90c9"/>
<path id="st-PA" d="M1097.0,533.0L1105.0,526.9L1113.0,520.8L1114.5,529.4L1127.6,527.1L1140.6,524.7L1153.7,522.2L1166.7,519.7L1179.1,517.2L1191.5,514.7L1203.8,512.1L1216.1,509.4L1223.3,514.4L1225.8,520.4L1235.8,526.0L1228.7,530.0L1230.3,540.0L1228.3,546.7L1235.0,558.3L1241.3,563.3L1233.3,575.0L1226.2,579.7L1223.8,581.0L1222.0,583.7L1209.5,586.4L1197.0,589.2L1184.4,591.8L1171.9,594.4L1159.3,596.9L1146.8,599.3L1134.2,601.7L1121.5,603.1L1108.8,604.5L1106.4,590.0L1104.0,575.4L1101.6,561.2L1099.3,547.1Z" fill="#8ccef2"/>
<path id="st-NY" d="M1239.2,405.2L1229.4,407.7L1219.6,410.1L1209.7,412.5L1197.6,420.1L1189.3,435.0L1179.8,445.2L1180.0,451.7L1184.0,454.1L1186.4,465.0L1176.4,473.6L1170.1,477.2L1156.4,479.3L1146.0,480.2L1135.6,481.0L1123.3,486.5L1126.4,494.7L1129.4,498.4L1126.1,506.2L1119.6,513.5L1113.0,520.8L1114.5,529.4L1127.6,527.1L1140.6,524.7L1153.7,522.2L1166.7,519.7L1179.1,517.2L1191.5,514.7L1203.8,512.1L1216.1,509.4L1223.3,514.4L1225.8,520.4L1235.8,526.0L1246.3,529.5L1256.7,533.0L1256.6,542.9L1260.5,538.7L1262.3,531.7L1259.9,528.9L1264.9,524.1L1262.6,521.7L1260.5,509.8L1258.3,498.0L1258.3,486.5L1258.3,474.9L1255.3,462.5L1252.4,450.0L1248.7,449.3L1245.7,436.8L1244.1,420.8ZM1254.9,545.6L1258.5,547.2L1269.0,541.9L1280.1,538.4L1288.0,531.6L1297.8,522.1L1290.5,519.1L1284.6,523.6L1276.4,526.9L1267.2,530.3L1258.3,533.7Z" fill="#27a2de"/>
<path id="st-CT" d="M1262.3,531.7L1259.9,528.9L1264.9,524.1L1262.6,521.7L1260.5,509.8L1258.3,498.0L1269.7,495.5L1281.1,493.0L1288.2,491.1L1295.4,489.2L1298.1,499.4L1300.8,509.6L1290.4,515.5L1277.8,519.0L1274.0,523.2Z" fill="#126089"/>
<path id="st-RI" d="M1300.8,509.6L1298.1,499.4L1295.4,489.2L1305.0,487.1L1308.2,490.8L1309.0,497.5L1308.5,505.0L1305.8,507.3Z" fill="#2fa6e1"/>
<path id="st-MA" d="M1258.3,498.0L1258.3,486.5L1258.3,474.9L1265.6,472.5L1272.9,470.0L1281.0,468.0L1289.2,466.0L1296.3,464.2L1303.3,462.3L1306.7,459.6L1309.2,457.9L1312.7,459.7L1316.0,464.2L1312.7,466.8L1313.3,470.8L1311.8,473.3L1313.5,475.8L1316.7,476.3L1320.0,479.2L1322.5,483.3L1324.6,488.5L1328.3,487.8L1333.3,486.2L1338.7,484.0L1340.8,487.7L1335.5,492.2L1330.3,495.5L1325.7,498.5L1324.3,493.7L1322.1,494.5L1320.2,498.3L1316.7,500.2L1314.6,498.7L1313.3,496.7L1312.3,501.2L1311.0,501.5L1310.7,497.5L1309.0,497.5L1308.2,490.8L1305.0,487.1L1295.4,489.2L1288.2,491.1L1281.1,493.0L1269.7,495.5ZM1322.9,501.9L1323.7,503.9L1329.6,502.7L1331.5,500.1L1327.4,498.4Z" fill="#14628e"/>
<path id="st-VT" d="M1239.2,405.2L1249.3,402.8L1259.4,400.2L1269.4,397.7L1279.5,395.0L1281.5,411.3L1274.8,426.3L1274.6,439.5L1273.3,453.0L1273.1,466.3L1272.9,470.0L1265.6,472.5L1258.3,474.9L1255.3,462.5L1252.4,450.0L1248.7,449.3L1245.7,436.8L1244.1,420.8Z" fill="#8ccdf2"/>
<path id="st-NH" d="M1279.5,395.0L1280.1,388.6L1286.2,383.7L1291.2,398.8L1296.2,414.0L1300.3,427.8L1304.4,441.6L1309.0,445.3L1313.2,450.2L1309.2,457.9L1306.7,459.6L1303.3,462.3L1296.3,464.2L1289.2,466.0L1281.0,468.0L1272.9,470.0L1273.1,466.3L1273.3,453.0L1274.6,439.5L1274.8,426.3L1281.5,411.3Z" fill="#33a9e3"/>
<path id="st-ME" d="M1378.6,371.7L1373.7,364.9L1365.2,364.2L1361.4,352.0L1352.6,348.1L1348.5,335.2L1344.5,322.4L1340.5,309.6L1327.3,304.0L1321.8,308.6L1316.4,313.2L1311.1,306.5L1307.0,306.7L1302.3,320.5L1297.5,334.4L1295.6,348.1L1296.7,364.3L1291.4,379.0L1286.2,383.7L1291.2,398.8L1296.2,414.0L1300.3,427.8L1304.4,441.6L1309.0,445.3L1313.2,450.2L1314.6,442.1L1319.8,430.8L1324.7,422.7L1333.0,418.7L1340.5,411.6L1342.4,397.7L1349.2,400.7L1357.4,396.6L1364.2,387.8L1372.0,382.1Z" fill="#9ed5f4"/>
<path id="st-AK" class="ns" d="M222.4,902.8L228.1,932.8L235.0,968.4L242.1,1005.9L249.6,1003.6L253.8,1009.2L259.9,1013.8L267.4,1013.4L272.1,1005.9L276.2,1005.9L281.5,1013.4L294.6,1026.5L307.8,1032.1L317.1,1034.0L320.9,1043.4L317.1,1049.0L309.6,1053.1L302.1,1049.0L289.0,1039.6L279.6,1032.1L270.2,1022.8L262.8,1017.5L253.4,1013.8L244.0,1010.8L229.0,1010.8L217.8,1007.8L212.1,1004.0L206.9,1007.8L208.8,1013.4L200.9,1015.2L193.4,1020.9L185.9,1023.1L185.5,1015.2L191.5,1007.8L199.0,1004.0L195.2,1001.8L187.8,1005.9L180.2,1015.2L174.6,1026.5L170.9,1032.1L165.2,1039.6L155.9,1049.0L144.6,1054.6L135.2,1060.2L125.9,1064.0L116.5,1068.7L103.4,1072.1L88.4,1078.1L74.3,1083.1L82.8,1076.8L101.5,1068.7L114.6,1062.1L125.9,1057.4L137.1,1052.8L146.5,1045.2L152.1,1037.8L155.9,1032.1L146.5,1028.4L142.8,1031.6L140.9,1026.5L128.7,1027.6L127.8,1020.9L130.0,1015.2L116.5,1011.9L112.8,1004.0L109.9,992.8L116.5,981.5L127.8,975.9L139.0,972.1L139.0,964.6L125.9,960.9L115.6,960.9L113.7,953.4L109.0,946.8L125.9,940.2L128.7,944.4L138.1,945.9L137.1,938.4L129.6,929.0L122.1,918.7L124.0,914.0L137.1,910.2L140.9,901.8L152.1,896.2L162.4,891.5L169.0,894.3L178.4,896.2L187.8,900.9L199.0,901.8L212.1,901.8ZM84.6,965.0L90.2,966.1L98.7,970.2L97.2,972.7L92.1,971.0L86.5,967.6ZM100.0,1007.8L106.2,1006.8L108.2,1010.0L103.4,1012.1ZM169.0,1045.2L174.6,1039.6L180.2,1033.6L183.2,1035.9L181.4,1043.4L175.0,1050.1L170.1,1050.1Z" fill="#8ccdf2"/>
<path id="st-HI" class="ns" d="M353.8,984.8L357.5,981.0L363.1,979.8L367.8,981.5L367.5,986.9L363.8,990.6L358.8,989.4ZM399.0,1000.6L402.5,1000.0L406.9,996.5L409.4,1000.0L411.9,1005.0L415.6,1008.1L413.8,1010.0L408.1,1008.1L402.5,1005.6ZM427.5,1013.8L430.0,1012.2L436.2,1013.1L439.4,1015.0L438.8,1016.0L432.5,1014.8L428.8,1015.2ZM435.2,1022.5L438.8,1021.5L440.6,1024.0L438.1,1026.2L436.2,1025.0ZM446.2,1019.4L448.8,1018.5L451.9,1021.2L456.2,1020.0L461.9,1022.5L465.6,1026.2L463.8,1029.4L455.0,1031.2L453.1,1028.1L450.0,1025.0L446.9,1022.5ZM470.0,1045.0L472.8,1042.8L477.5,1046.2L486.2,1050.0L493.8,1056.2L496.2,1061.2L501.2,1065.0L497.5,1070.0L490.0,1073.8L481.2,1078.8L476.2,1083.8L471.2,1080.6L469.4,1076.2L470.0,1067.5L465.0,1058.8L470.0,1052.5Z" fill="#1b72a8"/>

</svg>
<p class="t nt" id="l4" style="left:22.82px;top:1163.50px;transform:scaleX(1.0877)">Expected values and other data are derived from the latest tax return data from the IRS</p>
<p class="t nt" id="l5" style="left:23.90px;top:1203.00px;transform:scaleX(1.0592)">(2022 tax year); demographic data from the U.S. Census Bureau (2022, 2023); Experian</p>
<p class="t nt" id="l6" style="left:23.95px;top:1242.25px;transform:scaleX(1.0531)">auto financing data (2024) and Federal Reserve Bank of St. Louis (2025).</p>
<p class="t src" id="l7" style="left:23.92px;top:1293.50px;transform:scaleX(1.0765)">Source: SmartAsset 2025 Study</p>
<div class="t logo" id="l8" style="left:1178.60px;top:1276.20px;transform:scaleX(0.9620)">smart<b>asset</b><i>™</i></div>
</body></html>
